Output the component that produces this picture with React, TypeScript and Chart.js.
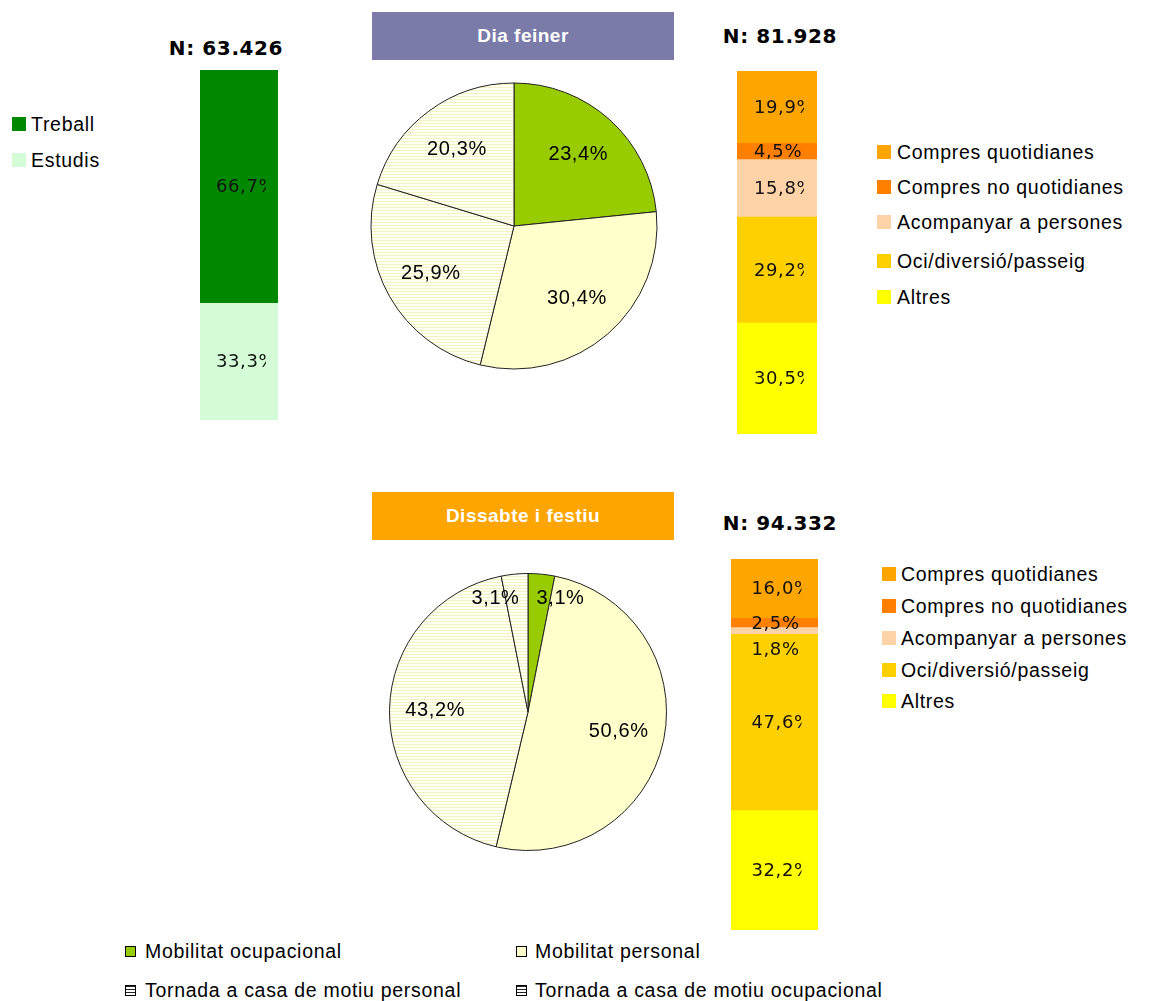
import React, { useEffect, useRef } from 'react';
import { Chart, registerables } from 'chart.js';

Chart.register(...registerables);

// ---------- DATA ----------
const pieCategories = [
  'Mobilitat ocupacional',
  'Mobilitat personal',
  'Tornada a casa de motiu personal',
  'Tornada a casa de motiu ocupacional',
];
const pieWeekday = [23.4, 30.4, 25.9, 20.3];
const pieWeekend = [3.1, 50.6, 43.2, 3.1];

const occCategories = ['Treball', 'Estudis'];
const occWeekday = [66.7, 33.3];

const persCategories = [
  'Compres quotidianes',
  'Compres no quotidianes',
  'Acompanyar a persones',
  'Oci/diversió/passeig',
  'Altres',
];
const persWeekday = [19.9, 4.5, 15.8, 29.2, 30.5];
const persWeekend = [16.0, 2.5, 1.8, 47.6, 32.2];

const titleWeekday = 'Dia feiner';
const titleWeekend = 'Dissabte i festiu';
const nOccWeekday = 'N: 63.426';
const nPersWeekday = 'N: 81.928';
const nPersWeekend = 'N: 94.332';

// ---------- STYLE ----------
const occColors = ['#008800', '#D4FCD6'];
const persColors = ['#FFA500', '#FF7F00', '#FFD3A8', '#FFD000', '#FFFF00'];
const ARIAL = '"Liberation Sans", Arial, sans-serif';
const VERDANA = '"DejaVu Sans", Verdana, sans-serif';

const fmt = (v: number) => v.toFixed(1).replace('.', ',') + '%';

function makeStripe(ctx: CanvasRenderingContext2D): CanvasPattern | string {
  const c = document.createElement('canvas');
  c.width = 4;
  c.height = 3;
  const p = c.getContext('2d')!;
  p.fillStyle = '#FFFFF2';
  p.fillRect(0, 0, 4, 3);
  p.fillStyle = '#F7F2C4';
  p.fillRect(0, 2, 4, 1);
  return ctx.createPattern(c, 'repeat') || '#FFFFE6';
}

const pieLabelPlugin = {
  id: 'pieLabels',
  afterDatasetsDraw(chart: any) {
    const ctx: CanvasRenderingContext2D = chart.ctx;
    const meta = chart.getDatasetMeta(0);
    const data = chart.data.datasets[0].data as number[];
    const total = data.reduce((a, b) => a + b, 0);
    ctx.save();
    ctx.font = `20px ${ARIAL}`;
    (ctx as any).letterSpacing = '0.6px';
    const items = meta.data.map((arc: any, i: number) => {
      const p = arc.getProps(['x', 'y', 'startAngle', 'endAngle', 'outerRadius'], true);
      const mid = (p.startAngle + p.endAngle) / 2;
      const frac = data[i] / total < 0.05 ? 0.82 : 0.67;
      const text = fmt(data[i]);
      const w = ctx.measureText(text).width;
      return {
        text,
        w,
        x: p.x + Math.cos(mid) * p.outerRadius * frac,
        y: p.y + Math.sin(mid) * p.outerRadius * frac,
      };
    });
    for (let i = 0; i < items.length; i++) {
      for (let j = i + 1; j < items.length; j++) {
        const a = items[i];
        const b = items[j];
        const need = (a.w + b.w) / 2 + 17;
        const dx = b.x - a.x;
        if (Math.abs(a.y - b.y) < 22 && Math.abs(dx) < need) {
          const shift = (need - Math.abs(dx)) / 2;
          const dir = dx >= 0 ? 1 : -1;
          a.x -= shift * dir;
          b.x += shift * dir;
        }
      }
    }
    ctx.fillStyle = '#000';
    ctx.textAlign = 'center';
    ctx.textBaseline = 'middle';
    items.forEach((it: any) => ctx.fillText(it.text, it.x, it.y));
    ctx.restore();
  },
};

const barLabelPlugin = {
  id: 'barLabels',
  afterDatasetsDraw(chart: any) {
    const ctx: CanvasRenderingContext2D = chart.ctx;
    const items: { text: string; x: number; cy: number }[] = [];
    chart.data.datasets.forEach((ds: any, di: number) => {
      const el = chart.getDatasetMeta(di).data[0];
      const p = el.getProps(['x', 'y', 'base'], true);
      items.push({ text: fmt(ds.data[0]), x: p.x, cy: (p.y + p.base) / 2 });
    });
    items.sort((a, b) => a.cy - b.cy);
    let prev = -Infinity;
    for (const it of items) {
      if (it.cy < prev + 26) it.cy = prev + 26;
      prev = it.cy;
    }
    ctx.save();
    ctx.font = `18px ${VERDANA}`;
    (ctx as any).letterSpacing = '0.6px';
    ctx.fillStyle = '#111';
    ctx.textAlign = 'left';
    ctx.textBaseline = 'middle';
    for (const it of items) {
      ctx.save();
      ctx.beginPath();
      ctx.rect(it.x - 26, it.cy - 15, 53, 30);
      ctx.clip();
      ctx.fillText(it.text, it.x - 23, it.cy + 1);
      ctx.restore();
    }
    ctx.restore();
  },
};

function PieChart(props: { values: number[]; cx: number; cy: number; radius: number }) {
  const ref = useRef<HTMLCanvasElement>(null);
  const size = 300;
  useEffect(() => {
    const canvas = ref.current!;
    const ctx = canvas.getContext('2d')!;
    const stripe = makeStripe(ctx);
    const chart = new Chart(canvas, {
      type: 'pie',
      data: {
        labels: pieCategories,
        datasets: [
          {
            data: props.values,
            backgroundColor: ['#99CC00', '#FFFFCC', stripe as any, stripe as any],
            borderColor: '#222',
            borderWidth: 1,
          },
        ],
      },
      options: {
        responsive: false,
        animation: false,
        radius: props.radius,
        layout: { padding: 0 },
        plugins: { legend: { display: false }, tooltip: { enabled: false } },
      } as any,
      plugins: [pieLabelPlugin],
    });
    return () => chart.destroy();
  }, []);
  return (
    <canvas
      ref={ref}
      width={size}
      height={size}
      style={{ position: 'absolute', left: props.cx - size / 2, top: props.cy - size / 2, width: size, height: size }}
    />
  );
}

function StackBar(props: {
  categories: string[];
  values: number[];
  colors: string[];
  left: number;
  top: number;
  width: number;
  height: number;
}) {
  const ref = useRef<HTMLCanvasElement>(null);
  useEffect(() => {
    const total = props.values.reduce((a, b) => a + b, 0);
    const datasets = props.categories
      .map((c, i) => ({
        label: c,
        data: [props.values[i]],
        backgroundColor: props.colors[i],
        borderWidth: 0,
        barPercentage: 1,
        categoryPercentage: 1,
      }))
      .reverse();
    const chart = new Chart(ref.current!, {
      type: 'bar',
      data: { labels: [''], datasets },
      options: {
        responsive: false,
        animation: false,
        layout: { padding: 0 },
        scales: {
          x: { stacked: true, display: false },
          y: { stacked: true, display: false, min: 0, max: total },
        },
        plugins: { legend: { display: false }, tooltip: { enabled: false } },
      },
      plugins: [barLabelPlugin],
    });
    return () => chart.destroy();
  }, []);
  return (
    <canvas
      ref={ref}
      width={props.width}
      height={props.height}
      style={{ position: 'absolute', left: props.left, top: props.top, width: props.width, height: props.height }}
    />
  );
}

function Text(props: { x: number; y: number; children: React.ReactNode; style?: React.CSSProperties }) {
  return (
    <div
      style={{
        position: 'absolute',
        left: props.x,
        top: props.y - 12,
        height: 24,
        lineHeight: '24px',
        whiteSpace: 'nowrap',
        fontFamily: ARIAL,
        fontSize: 19.5,
        letterSpacing: '0.7px',
        color: '#000',
        ...props.style,
      }}
    >
      {props.children}
    </div>
  );
}

function Swatch(props: { x: number; y: number; size: number; color?: string; border?: boolean; striped?: boolean }) {
  const s: React.CSSProperties = {
    position: 'absolute',
    left: props.x,
    top: props.y - props.size / 2,
    width: props.size,
    height: props.size,
    boxSizing: 'border-box',
    background: props.color,
  };
  if (props.border) s.border = '1px solid #000';
  if (props.striped) {
    s.background = 'repeating-linear-gradient(to bottom, #222 0px, #222 1px, #fff 1px, #fff 3px)';
  }
  return <div style={s} />;
}

function Header(props: { y: number; text: string; color: string }) {
  return (
    <div
      style={{
        position: 'absolute',
        left: 372,
        top: props.y,
        width: 302,
        height: 48,
        background: props.color,
        color: '#fff',
        fontFamily: ARIAL,
        fontWeight: 'bold',
        fontSize: 19,
        letterSpacing: '0.5px',
        display: 'flex',
        alignItems: 'center',
        justifyContent: 'center',
      }}
    >
      {props.text}
    </div>
  );
}

function NLabel(props: { cx: number; y: number; text: string }) {
  return (
    <div
      style={{
        position: 'absolute',
        left: props.cx - 100,
        width: 200,
        top: props.y - 13,
        height: 26,
        lineHeight: '26px',
        textAlign: 'center',
        fontFamily: VERDANA,
        fontWeight: 'bold',
        fontSize: 20,
        letterSpacing: '0.6px',
        color: '#000',
      }}
    >
      {props.text}
    </div>
  );
}

export default function App() {
  const topLegendY = [152, 187, 222, 261, 297];
  const botLegendY = [574, 606, 638, 670, 701];
  return (
    <div style={{ position: 'absolute', left: 0, top: 0, width: 1152, height: 1001, background: '#fff', overflow: 'hidden' }}>
      <Header y={12} text={titleWeekday} color="#7B7BAA" />
      <Header y={492} text={titleWeekend} color="#FFA500" />

      <NLabel cx={226} y={48} text={nOccWeekday} />
      <NLabel cx={780} y={36} text={nPersWeekday} />
      <NLabel cx={780} y={523} text={nPersWeekend} />

      {occCategories.map((c, i) => (
        <React.Fragment key={c}>
          <Swatch x={12} y={124 + i * 36} size={14} color={occColors[i]} />
          <Text x={31} y={124 + i * 36}>{c}</Text>
        </React.Fragment>
      ))}

      {persCategories.map((c, i) => (
        <React.Fragment key={'t' + c}>
          <Swatch x={877} y={topLegendY[i]} size={14} color={persColors[i]} />
          <Text x={897} y={topLegendY[i]}>{c}</Text>
        </React.Fragment>
      ))}

      {persCategories.map((c, i) => (
        <React.Fragment key={'b' + c}>
          <Swatch x={882} y={botLegendY[i]} size={14} color={persColors[i]} />
          <Text x={901} y={botLegendY[i]}>{c}</Text>
        </React.Fragment>
      ))}

      <StackBar categories={occCategories} values={occWeekday} colors={occColors} left={200} top={70} width={78} height={350} />
      <StackBar categories={persCategories} values={persWeekday} colors={persColors} left={737} top={71} width={80} height={363} />
      <StackBar categories={persCategories} values={persWeekend} colors={persColors} left={731} top={559} width={87} height={371} />

      <PieChart values={pieWeekday} cx={514} cy={225.5} radius={143} />
      <PieChart values={pieWeekend} cx={528} cy={711.5} radius={138.5} />

      <Swatch x={125} y={951} size={11} color="#99CC00" border />
      <Text x={145} y={951}>{pieCategories[0]}</Text>
      <Swatch x={516} y={951} size={11} color="#FFFFCC" border />
      <Text x={535} y={951}>{pieCategories[1]}</Text>
      <Swatch x={125} y={990} size={11} striped border />
      <Text x={145} y={990}>{pieCategories[2]}</Text>
      <Swatch x={516} y={990} size={11} striped border />
      <Text x={535} y={990}>{pieCategories[3]}</Text>
    </div>
  );
}
